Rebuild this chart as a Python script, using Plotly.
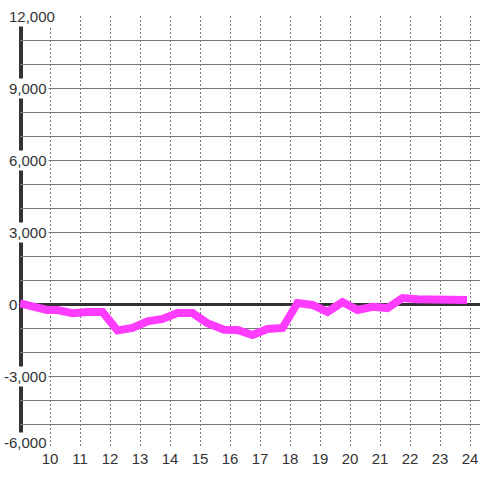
import plotly.graph_objects as go

# hour of day and cumulative value
hours = [9.0, 9.9, 10.25, 10.75, 11.25, 11.75, 12.25, 12.75, 13.25, 13.75,
         14.25, 14.75, 15.25, 15.8, 16.25, 16.75, 17.25, 17.75, 18.25, 18.75,
         19.25, 19.75, 20.25, 20.75, 21.25, 21.75, 22.25, 22.75, 23.35, 23.9]
values = [30, -250, -250, -380, -330, -330, -1100, -1000, -720, -620,
          -380, -380, -800, -1070, -1080, -1290, -1040, -1000, 40, -40,
          -330, 80, -250, -120, -170, 250, 200, 200, 170, 170]

x_ticks = list(range(10, 25))
y_tick_vals = [12000, 9000, 6000, 3000, 0, -3000, -6000]
y_tick_text = ['12,000', '9,000', '6,000', '3,000', '0', '-3,000', '-6,000']

W, H = 480, 480
ML, MR, MT, MB = 20, 0, 16, 32
PW = W - ML - MR
label_font = dict(family='Liberation Sans, Arial, sans-serif', size=15, color='#333333')

fig = go.Figure()

fig.add_trace(go.Scatter(
    x=hours, y=values, mode='lines',
    line=dict(color='#ff3cff', width=8),
    showlegend=False, hoverinfo='skip'
))

fig.update_xaxes(
    range=[9.0, 9.0 + PW / 30],
    tickvals=x_ticks, ticktext=[str(h) for h in x_ticks],
    showgrid=True, gridcolor='#777777', gridwidth=1, griddash='2px,2px',
    showline=False, zeroline=False, ticks='',
    tickfont=label_font, automargin=False,
)

fig.update_yaxes(
    range=[-6000, 12000],
    tickvals=y_tick_vals, showticklabels=False,
    ticks='outside', ticklen=10, tickcolor='#777777', tickwidth=1,
    showgrid=True, gridcolor='#777777', gridwidth=1,
    minor=dict(dtick=1000, showgrid=True, gridcolor='#777777', gridwidth=1, ticks=''),
    showline=False,
    zeroline=True, zerolinecolor='#333333', zerolinewidth=3,
    automargin=False,
)

# thick y axis line, just inside the plot edge
fig.add_shape(type='line', xref='paper', yref='paper', x0=1 / PW, x1=1 / PW, y0=0, y1=1,
              line=dict(color='#333333', width=4), layer='between')

# y labels sit on white boxes over the axis line
for v, t in zip(y_tick_vals, y_tick_text):
    left_px = 2 if v < 0 else 7
    fig.add_annotation(
        x=(left_px - ML) / PW, xref='paper', y=v, yref='y',
        text=t, showarrow=False, xanchor='left', yanchor='middle',
        bgcolor='white', borderpad=1, font=label_font,
        yshift=6 if v == -6000 else 0,
    )

fig.update_layout(
    width=W, height=H,
    margin=dict(l=ML, r=MR, t=MT, b=MB, autoexpand=False),
    paper_bgcolor='white', plot_bgcolor='white',
    showlegend=False,
)

# drop the page's default body margin so the figure sits at the window corner
fig.write_html("out.html", config=dict(displayModeBar=False),
               post_script="document.body.style.margin='0';")
